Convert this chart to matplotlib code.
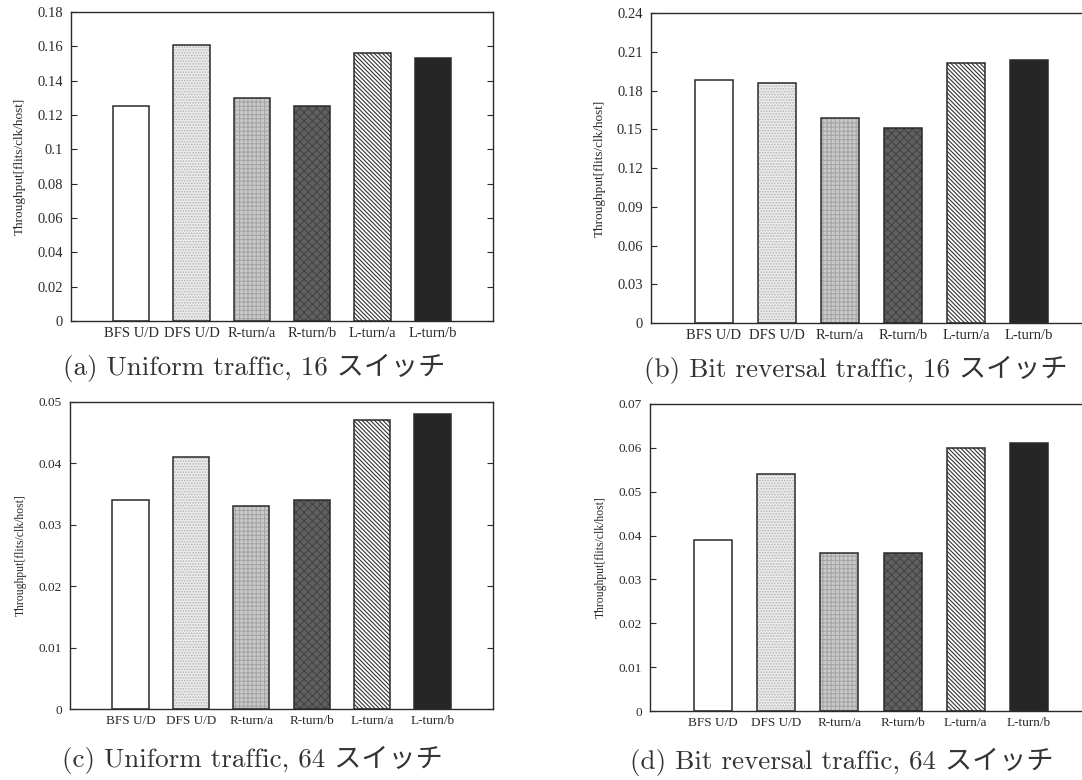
import matplotlib
matplotlib.use("Agg")
import matplotlib.pyplot as plt
import numpy as np
from matplotlib.ticker import FormatStrFormatter, MultipleLocator

# ---------------------------------------------------------------------------
# data
# ---------------------------------------------------------------------------
methods = ["BFS U/D", "DFS U/D", "R-turn/a", "R-turn/b", "L-turn/a", "L-turn/b"]

uniform_16 = [0.125, 0.161, 0.130, 0.125, 0.156, 0.153]
bitrev_16 = [0.188, 0.186, 0.159, 0.151, 0.201, 0.204]
uniform_64 = [0.034, 0.041, 0.033, 0.034, 0.047, 0.048]
bitrev_64 = [0.039, 0.054, 0.036, 0.036, 0.060, 0.061]

captions = [
    "(a) Uniform traffic, 16 スイッチ",
    "(b) Bit reversal traffic, 16 スイッチ",
    "(c) Uniform traffic, 64 スイッチ",
    "(d) Bit reversal traffic, 64 スイッチ",
]
y_max = [0.18, 0.24, 0.05, 0.07]
y_step = [0.02, 0.03, 0.01, 0.01]

# fill / hatch per bar (gnuplot-ish greyscale patterns)
face = ["white", "#ececec", "#cacaca", "#606060", "white", "#262626"]
hatch_col = ["white", "#b4b4b4", "#a6a6a6", "#444444", "#333333", "#1c1c1c"]
hatches = [None, "......", "++++", "xxxx", "\\" * 8, None]

W, H = 1082, 780
# axes boxes in pixels: left, top, right, bottom
boxes = [(71, 12, 493, 321), (651, 13, 1092, 323),
         (70, 402, 493, 709), (650, 404, 1092, 711)]
cap_pos = [(254, 368), (856, 370), (252, 760), (842, 762)]
tick_fs = [10.5, 10.5, 9.5, 9.5]

SERIF = ["Liberation Serif", "DejaVu Serif"]
CAPFONT = ["cmr10", "Noto Sans CJK JP", "DejaVu Serif"]
INK = "#2a2a2a"

plt.rcParams["axes.formatter.use_mathtext"] = True
plt.rcParams["hatch.linewidth"] = 0.8
fig = plt.figure(figsize=(W / 100, H / 100), dpi=100)

series = [uniform_16, bitrev_16, uniform_64, bitrev_64]
for k, vals in enumerate(series):
    l, t, r, b = boxes[k]
    ax = fig.add_axes([l / W, 1 - b / H, (r - l) / W, (b - t) / H])
    x = np.arange(1, len(methods) + 1)
    for i in range(len(methods)):
        ax.bar(x[i], vals[i], width=0.6, color=face[i], edgecolor=hatch_col[i],
               hatch=hatches[i], linewidth=0, zorder=2)
    ax.bar(x, vals, width=0.6, fill=False, edgecolor=INK, linewidth=1.1, zorder=3)

    ax.set_xlim(0, 7)
    ax.set_ylim(0, y_max[k])
    ax.yaxis.set_major_locator(MultipleLocator(y_step[k]))
    ax.yaxis.set_major_formatter(FormatStrFormatter("%g"))
    ax.set_xticks(x)
    ax.set_xticklabels(methods, family=SERIF, fontsize=tick_fs[k], color=INK)
    ax.tick_params(axis="x", length=0, pad=4)
    ax.tick_params(axis="y", direction="in", length=4, width=0.8, right=True,
                   pad=6, labelsize=tick_fs[k], labelcolor=INK, color=INK)
    for lab in ax.get_yticklabels():
        lab.set_family(SERIF)
    for sp in ax.spines.values():
        sp.set_color(INK)
        sp.set_linewidth(1.0)
    ax.set_ylabel("Throughput[flits/clk/host]", family=SERIF,
                  fontsize=tick_fs[k] - 1, color=INK, labelpad=8)

    cx, cy = cap_pos[k]
    fig.text(cx / W, 1 - cy / H, captions[k], ha="center", va="center",
             family=CAPFONT, fontsize=19.5, color="#333333")

fig.savefig("out.png", dpi=100)
